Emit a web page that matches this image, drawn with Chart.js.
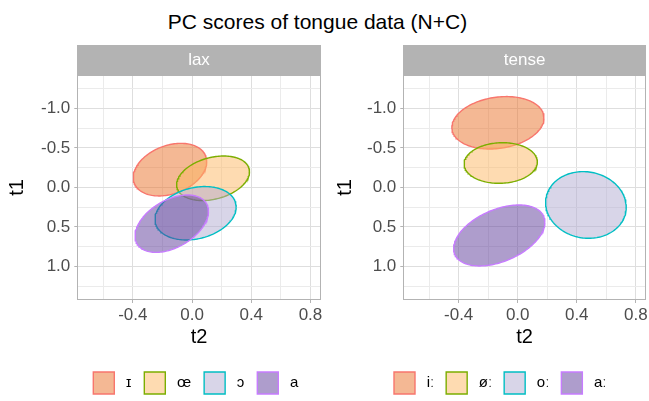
<!DOCTYPE html>
<html><head><meta charset="utf-8">
<script src="https://cdn.jsdelivr.net/npm/chart.js@4.4.1/dist/chart.umd.min.js"></script>
<style>
html,body{margin:0;padding:0;background:#fff;}
#wrap{position:relative;width:649px;height:401px;overflow:hidden;font-family:"Liberation Sans",Arial,sans-serif;}
#title{position:absolute;left:0;width:635px;top:10.5px;text-align:center;font-size:21px;line-height:21px;color:#000;}
.cv{position:absolute;top:0;}
</style></head><body>
<div id="wrap">
<div id="title">PC scores of tongue data (N+C)</div>
<canvas id="c1" class="cv" width="330" height="401" style="left:0px"></canvas>
<canvas id="c2" class="cv" width="323" height="401" style="left:326px"></canvas>
</div>
<script>
// ---- data ----
const panelNames = ['lax', 'tense'];
const laxVowels = ['ɪ', 'œ', 'ɔ', 'a'];
const tenseVowels = ['iː', 'øː', 'oː', 'aː'];
// ellipse centres (t2, t1), half-extents along t2 / t1 and correlation
const laxT2 = [-0.149, 0.142, 0.024, -0.137];
const laxT1 = [-0.225, -0.116, 0.327, 0.459];
const laxHalfT2 = [0.248, 0.246, 0.274, 0.248];
const laxHalfT1 = [0.333, 0.282, 0.338, 0.363];
const laxCor = [-0.30, -0.29, -0.23, -0.43];
const tenseT2 = [-0.134, -0.115, 0.462, -0.125];
const tenseT1 = [-0.818, -0.309, 0.222, 0.608];
const tenseHalfT2 = [0.312, 0.248, 0.273, 0.309];
const tenseHalfT1 = [0.332, 0.257, 0.422, 0.386];
const tenseCor = [-0.18, -0.05, 0.07, -0.43];
const xTicks = [-0.6, -0.4, -0.2, 0, 0.2, 0.4, 0.6, 0.8];
const xMajor = [-0.4, 0, 0.4, 0.8];
const yTicks = [-1.25, -1, -0.75, -0.5, -0.25, 0, 0.25, 0.5, 0.75, 1, 1.25];
const yMajor = [-1, -0.5, 0, 0.5, 1];

// ---- styles ----
const FAMILY = "'Liberation Sans', Arial, sans-serif";
const lineColors = ['#F8766D', '#7CAE00', '#00BFC4', '#C77CFF'];
const fillColors = ['rgba(233,113,41,0.5)', 'rgba(253,184,99,0.5)', 'rgba(178,171,210,0.5)', 'rgba(94,60,153,0.5)'];
Chart.defaults.font.family = FAMILY;

const isIn = (arr, v) => arr.some(m => Math.abs(m - v) < 1e-9);

function outline(cx, cy, hx, hy, r) {
  const pts = [];
  const n = 160, q = Math.sqrt(1 - r * r);
  for (let k = 0; k <= n; k++) {
    const t = 2 * Math.PI * k / n;
    pts.push({x: cx + hx * Math.cos(t), y: cy + hy * (r * Math.cos(t) + q * Math.sin(t))});
  }
  return pts;
}

const panelPlugin = {
  id: 'panel',
  beforeDraw(chart, args, o) {
    const lg = chart.legend;
    if (lg) { lg.left = o.legendLeft; lg.right = chart.width; lg.top = o.legendTop; lg.bottom = chart.height; }
  },
  afterDraw(chart, args, o) {
    const {ctx, chartArea: a} = chart;
    ctx.save();
    ctx.strokeStyle = '#B3B3B3';
    ctx.lineWidth = 1;
    const L = Math.round(a.left) + 0.5, T = Math.round(a.top) + 0.5;
    const R = Math.round(a.right) - 0.5, B = Math.round(a.bottom) - 0.5;
    ctx.strokeRect(L, T, R - L, B - T);
    ctx.fillStyle = '#B3B3B3';
    ctx.fillRect(Math.round(a.left), o.stripTop, Math.round(a.right) - Math.round(a.left), Math.round(a.top) - o.stripTop);
    ctx.fillStyle = '#FFFFFF';
    ctx.font = '17px ' + FAMILY;
    ctx.textAlign = 'center';
    ctx.textBaseline = 'middle';
    ctx.fillText(o.strip, (a.left + a.right) / 2, (o.stripTop + a.top) / 2 + 0.5);
    ctx.restore();
  }
};

function makeChart(id, strip, vowels, cx, cy, hx, hy, cor, lay) {
  const datasets = vowels.map((v, i) => ({
    label: v,
    data: outline(cx[i], cy[i], hx[i], hy[i], cor[i]),
    borderColor: lineColors[i],
    backgroundColor: fillColors[i],
    borderWidth: 1.4,
    pointRadius: 0,
    pointHoverRadius: 0,
    tension: 0,
    fill: 'shape',
    order: vowels.length - i
  }));
  return new Chart(document.getElementById(id), {
    type: 'line',
    data: {datasets},
    plugins: [panelPlugin],
    options: {
      responsive: false,
      animation: false,
      devicePixelRatio: 1,
      layout: {padding: {top: 75, right: lay.padRight, left: 0, bottom: 0}},
      scales: {
        x: {
          type: 'linear', min: -0.775, max: 0.869,
          afterBuildTicks: s => { s.ticks = xTicks.map(v => ({value: v})); },
          afterFit: s => { s.height = 61; s.paddingLeft = 0; s.paddingRight = 0; },
          ticks: {
            autoSkip: false, maxRotation: 0, padding: 2, color: '#4D4D4D', font: {size: 17},
            callback: v => isIn(xMajor, v) ? v.toFixed(1) : ''
          },
          grid: {
            lineWidth: 1, tickLength: 3, drawTicks: true,
            color: c => isIn(xMajor, c.tick.value) ? '#DEDEDE' : '#EBEBEB',
            tickColor: c => isIn(xMajor, c.tick.value) ? '#B3B3B3' : 'rgba(0,0,0,0)'
          },
          border: {display: false},
          title: {display: true, text: 't2', color: '#000', font: {size: 20}, padding: {top: 0, bottom: 12}}
        },
        y: {
          type: 'linear', reverse: true, min: -1.423, max: 1.425,
          afterBuildTicks: s => { s.ticks = yTicks.map(v => ({value: v})); },
          afterFit: s => { s.width = 77.3; s.paddingTop = 0; s.paddingBottom = 0; },
          ticks: {
            autoSkip: false, padding: 4, color: '#4D4D4D', font: {size: 17},
            callback: v => isIn(yMajor, v) ? v.toFixed(1) : ''
          },
          grid: {
            lineWidth: 1, tickLength: 3, drawTicks: true,
            color: c => isIn(yMajor, c.tick.value) ? '#DEDEDE' : '#EBEBEB',
            tickColor: c => isIn(yMajor, c.tick.value) ? '#B3B3B3' : 'rgba(0,0,0,0)'
          },
          border: {display: false},
          title: {display: true, text: 't1', color: '#000', font: {size: 20}, padding: {top: lay.yTitlePad, bottom: 0}}
        }
      },
      plugins: {
        tooltip: {enabled: false},
        title: {display: false},
        panel: {strip, stripTop: 45, legendLeft: lay.legendLeft, legendTop: 372 - lay.legendPad},
        legend: {
          display: true, position: 'bottom', align: 'start', maxHeight: 40,
          labels: {
            boxWidth: 21, boxHeight: 22, padding: lay.legendPad, color: '#000', font: {size: 15},
            sort: (a, b) => a.datasetIndex - b.datasetIndex,
            generateLabels: ch => Chart.defaults.plugins.legend.labels.generateLabels(ch)
              .map(it => Object.assign(it, {text: ' ' + it.text}))
          }
        }
      }
    }
  });
}

makeChart('c1', panelNames[0], laxVowels, laxT2, laxT1, laxHalfT2, laxHalfT1, laxCor,
  {padRight: 9.3, legendLeft: 80.3, legendPad: 13, yTitlePad: 5});
makeChart('c2', panelNames[1], tenseVowels, tenseT2, tenseT1, tenseHalfT2, tenseHalfT1, tenseCor,
  {padRight: 3, legendLeft: 56, legendPad: 12, yTitlePad: 7.5});
</script>
</body></html>
